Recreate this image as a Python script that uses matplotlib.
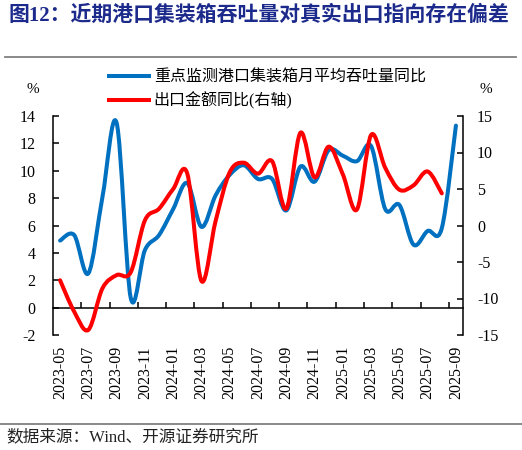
"""Port container throughput vs. export growth, dual-axis smoothed line chart."""

import numpy as np
import matplotlib
matplotlib.use("Agg")
import matplotlib.pyplot as plt
from matplotlib.lines import Line2D
from matplotlib.patches import PathPatch
from matplotlib.path import Path
from matplotlib.font_manager import FontProperties

plt.rcParams["font.family"] = ["Liberation Serif", "Noto Sans CJK SC"]
plt.rcParams["axes.unicode_minus"] = False

months = [
    "2023-05", "2023-06", "2023-07", "2023-08", "2023-09", "2023-10", "2023-11", "2023-12",
    "2024-01", "2024-02", "2024-03", "2024-04", "2024-05", "2024-06", "2024-07", "2024-08",
    "2024-09", "2024-10", "2024-11", "2024-12", "2025-01", "2025-02", "2025-03", "2025-04",
    "2025-05", "2025-06", "2025-07", "2025-08", "2025-09",
]
# 重点监测港口集装箱月平均吞吐量同比 (left axis, %)
container_yoy = [4.9, 5.3, 2.5, 8.1, 13.5, 0.7, 4.2, 5.3, 7.2, 9.1, 5.9, 8.2, 9.7, 10.4, 9.4,
                 9.4, 7.1, 10.3, 9.2, 11.5, 11.1, 10.7, 11.8, 7.2, 7.5, 4.6, 5.6, 5.8, 13.3]
# 出口金额同比 (right axis, %), no value yet for 2025-09
export_yoy = [-7.5, -11.8, -14.3, -8.6, -6.8, -6.4, 0.7, 2.3, 5.0, 7.1, -7.6, 0.6, 7.3, 8.6,
              7.1, 8.8, 2.3, 12.7, 6.6, 10.8, 7.0, 2.2, 12.4, 7.9, 4.9, 5.5, 7.4, 4.4]

left_ticks = [-2, 0, 2, 4, 6, 8, 10, 12, 14]
right_ticks = [-15, -10, -5, 0, 5, 10, 15]
legend_labels = ["重点监测港口集装箱月平均吞吐量同比", "出口金额同比(右轴)"]

BLUE = "#0070C0"
RED = "#FF0000"
W, H = 522, 450


def smooth_path(x, y):
    # Excel-style smoothed line: cubic Bezier through every point
    pts = np.column_stack([x, y]).astype(float)
    n = len(pts)
    verts = [pts[0]]
    codes = [Path.MOVETO]
    for i in range(n - 1):
        p0 = pts[i - 1] if i > 0 else pts[i]
        p1 = pts[i]
        p2 = pts[i + 1]
        p3 = pts[i + 2] if i + 2 < n else pts[i + 1]
        verts += [p1 + (p2 - p0) / 6, p2 - (p3 - p1) / 6, p2]
        codes += [Path.CURVE4] * 3
    return Path(verts, codes)


fig = plt.figure(figsize=(W / 100, H / 100), dpi=100)
ax = fig.add_axes([53 / W, 1 - 335 / H, 410 / W, 219 / H])
ax2 = ax.twinx()

xs = np.arange(len(months))
ax.set_xlim(-0.5, len(months) - 0.5)
ax.set_ylim(left_ticks[0], left_ticks[-1])
ax2.set_ylim(right_ticks[0], right_ticks[-1])

ax.add_patch(PathPatch(smooth_path(xs, container_yoy), facecolor="none", edgecolor=BLUE,
                       lw=2.9, capstyle="round", joinstyle="round", zorder=3))
ax2.add_patch(PathPatch(smooth_path(xs[:len(export_yoy)], export_yoy), facecolor="none",
                        edgecolor=RED, lw=2.9, capstyle="round", joinstyle="round", zorder=3))

for s in ["top", "right"]:
    ax.spines[s].set_visible(False)
for s in ["top", "bottom", "left"]:
    ax2.spines[s].set_visible(False)
ax.spines["bottom"].set_position(("data", 0))
for sp in [ax.spines["left"], ax.spines["bottom"], ax2.spines["right"]]:
    sp.set_linewidth(1.1)

ax.set_yticks(left_ticks)
ax.tick_params(axis="y", direction="in", length=4, width=1.1, pad=12.5, labelsize=11.5)
ax2.set_yticks(right_ticks)
ax2.tick_params(axis="y", direction="in", length=4, width=1.1, pad=10, labelsize=11.5)

# tick marks sit between categories on the zero line
ax.set_xticks(np.arange(1.5, len(months) - 1, 2))
ax.tick_params(axis="x", direction="in", length=4, width=1.1, labelbottom=False)

sec = ax.secondary_xaxis("bottom")
sec.set_xticks(xs[::2], months[::2], rotation=90)
sec.tick_params(length=0, pad=8, labelsize=11.5)
sec.spines["bottom"].set_visible(False)

ax.text(-0.05, 1.12, "%", transform=ax.transAxes, fontsize=11, ha="center", va="center")
ax2.text(1.055, 1.12, "%", transform=ax.transAxes, fontsize=11, ha="center", va="center")

handles = [Line2D([], [], color=BLUE, lw=2.9), Line2D([], [], color=RED, lw=2.9)]
fig.legend(handles, legend_labels, loc="upper left", bbox_to_anchor=(109 / W, 1 - 70 / H),
           frameon=False, handlelength=2.5, handletextpad=0.3, labelspacing=0.35,
           borderpad=0, borderaxespad=0,
           prop=FontProperties(family=["Liberation Serif", "Noto Sans CJK SC"], size=11.5))

fig.text(8 / W, 1 - 16 / H, "图12：近期港口集装箱吞吐量对真实出口指向存在偏差",
         fontsize=15, fontweight="bold", color="#1C2A8C", ha="left", va="center")
fig.text(6 / W, 1 - 437 / H, "数据来源：Wind、开源证券研究所", fontsize=12,
         color="#222222", ha="left", va="center")

fig.add_artist(Line2D([5 / W, 516 / W], [1 - 57 / H, 1 - 57 / H], transform=fig.transFigure,
                      color="#808080", lw=1.3))
fig.add_artist(Line2D([0, 1], [1 - 424 / H, 1 - 424 / H], transform=fig.transFigure,
                      color="#808080", lw=1.3))

fig.savefig("out.png", dpi=100)
